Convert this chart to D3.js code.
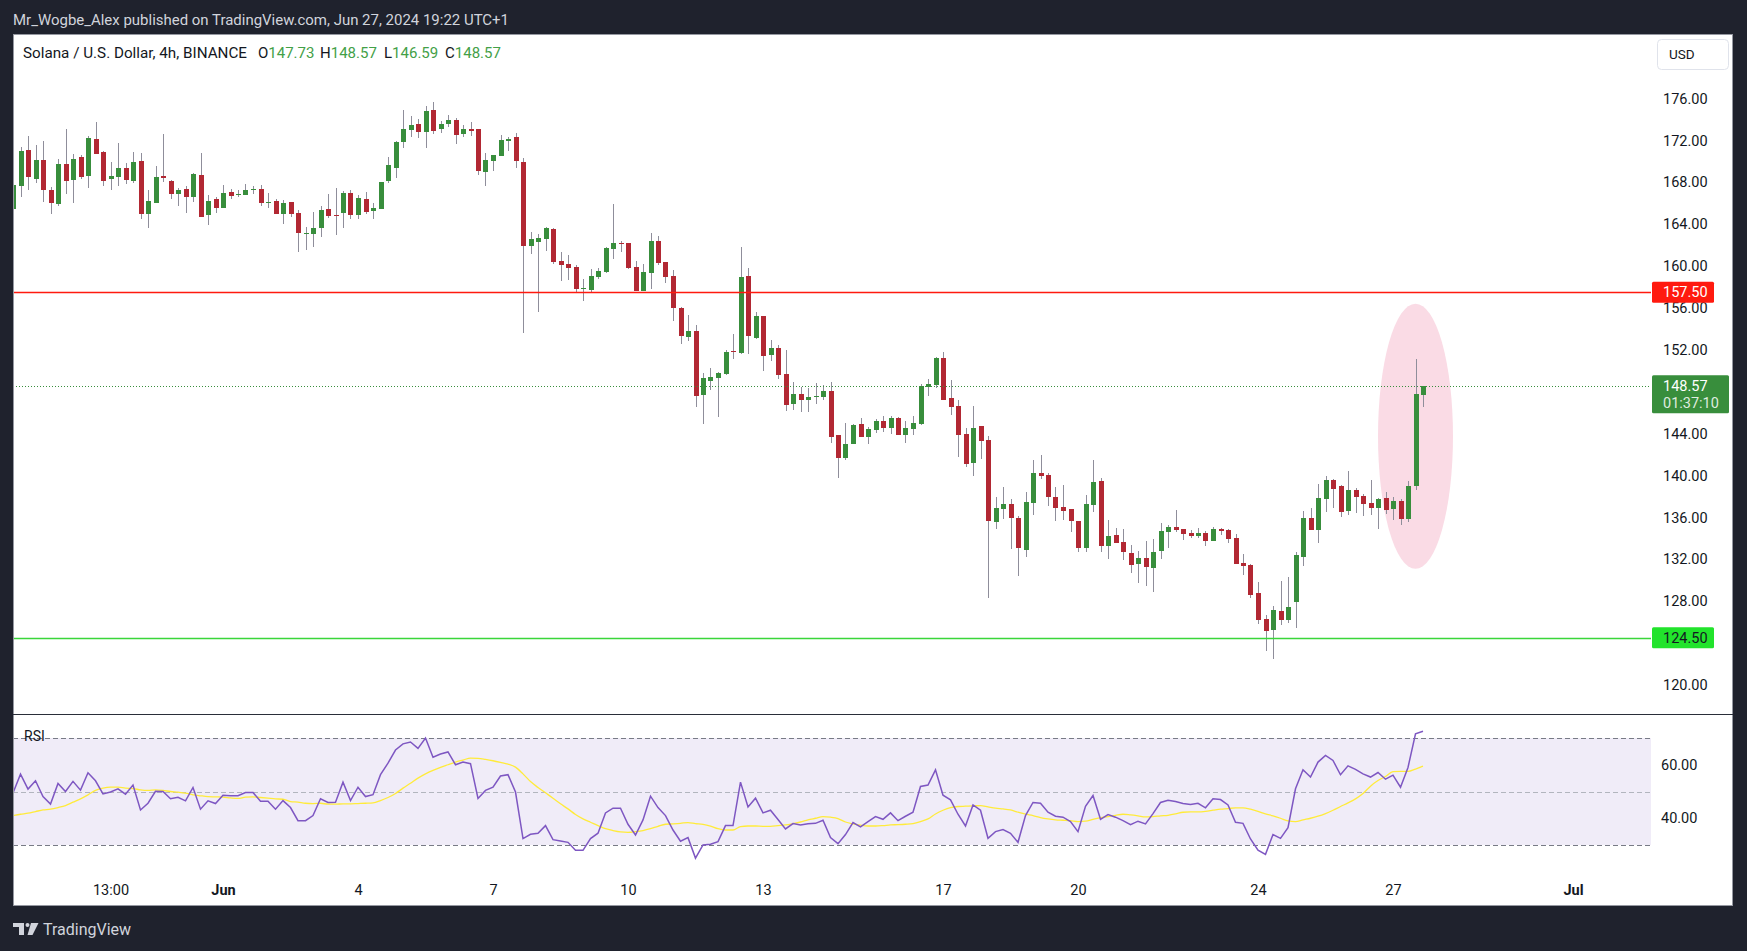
<!DOCTYPE html>
<html><head><meta charset="utf-8">
<script src="https://cdn.jsdelivr.net/npm/d3@7"></script>
<style>
body{margin:0;background:#1f222d;}
svg{display:block;}
text{font-family:Roboto,"Noto Sans",sans-serif;}
</style>
</head><body>
<svg id="chart" width="1747" height="951"></svg>
<script>
// ---------- DATA (4h candles, UTC+1 wall clock, first bar May 27 09:00) ----------
const firstBar = "2024-05-27T09:00:00Z";
const barHours = 4;
const opens = [
165.48,167.68,171.08,168.35,170.13,167.26,165.96,169.75,168.25,170.41,
168.63,172.13,170.89,168.35,168.54,169.36,168.16,170.03,165.01,166.06,
168.60,168.12,166.91,167.36,166.63,168.70,164.91,166.41,165.58,167.07,
166.82,166.82,167.30,167.36,166.06,166.21,165.01,166.12,165.07,163.10,
163.10,163.67,165.45,164.88,165.10,166.98,164.91,166.41,165.29,165.48,
168.16,169.40,171.88,173.02,173.57,172.83,174.90,173.12,173.60,173.95,
172.64,173.09,173.09,169.01,170.06,170.54,171.97,172.32,169.94,161.95,
162.33,162.62,163.54,160.49,160.20,159.91,157.85,157.75,158.99,159.47,
161.66,162.21,162.21,159.91,157.66,159.37,162.40,160.39,159.06,156.00,
153.26,153.81,147.73,149.06,149.35,149.73,151.90,151.74,159.06,153.17,
155.24,151.55,152.18,149.70,146.87,147.79,147.25,147.54,147.54,148.08,
143.88,141.71,143.05,144.93,143.72,144.39,145.21,144.58,145.50,143.91,
144.48,144.93,148.49,148.68,151.23,147.41,146.65,143.97,141.24,144.74,
143.40,135.60,136.84,137.29,135.95,132.93,137.42,140.25,140.06,137.96,
137.00,136.81,135.67,133.12,137.19,139.48,133.31,134.33,133.66,132.61,
131.56,132.13,131.21,132.83,134.65,135.09,134.90,134.52,134.27,134.52,
133.79,134.90,134.81,134.04,131.66,131.47,128.79,126.31,125.29,127.07,
126.25,127.97,132.26,135.95,134.84,137.80,139.58,139.01,136.65,138.63,
138.05,137.38,136.94,137.86,136.84,137.58,135.89,139.04,147.73];
const highs = [
168.06,171.37,172.42,171.56,171.94,167.55,170.22,173.09,170.70,170.61,
172.42,173.76,170.99,169.94,171.75,169.84,170.89,170.80,167.26,169.56,
172.61,168.22,167.46,167.65,168.89,170.80,166.79,166.63,167.74,167.36,
167.26,167.84,167.61,167.74,166.98,166.44,166.31,166.12,165.36,163.76,
165.20,165.74,166.91,167.46,167.17,167.26,166.79,167.07,166.02,168.03,
170.41,171.94,174.90,174.33,174.04,175.28,175.67,173.85,174.42,174.14,
173.47,173.76,173.09,170.80,170.61,172.52,172.32,172.71,170.32,163.26,
163.06,163.76,163.67,161.35,161.06,160.11,158.77,159.72,159.82,161.82,
165.93,162.40,162.21,160.49,160.20,163.16,162.87,160.39,159.63,156.10,
155.33,154.38,149.80,150.27,149.92,151.99,153.52,161.82,159.82,155.62,
155.24,152.95,152.47,151.99,148.94,148.46,148.36,148.84,148.65,148.94,
143.88,145.02,144.93,145.50,144.67,145.40,145.69,145.69,145.60,145.21,
145.69,148.75,149.22,151.32,151.80,149.13,147.22,144.58,146.65,144.74,
143.78,137.96,138.91,137.77,136.14,138.43,141.49,141.97,140.25,138.91,
139.10,136.81,135.67,138.15,141.49,139.77,135.79,135.00,134.90,133.37,
132.83,133.79,133.98,135.47,135.28,136.72,134.90,134.81,135.00,134.71,
135.09,135.00,134.90,134.43,132.52,131.59,129.84,126.69,127.55,129.94,
130.32,132.71,136.62,136.91,139.20,139.96,139.68,139.10,140.44,138.82,
138.24,139.58,137.86,138.43,137.96,137.77,139.48,151.13,148.57];
const lows = [
165.04,166.63,167.30,167.90,166.15,165.01,165.77,166.91,166.06,168.35,
167.49,170.73,167.68,167.30,167.68,167.87,167.96,164.53,163.67,166.06,
168.06,166.44,165.77,165.10,166.15,164.72,163.96,165.10,165.58,166.44,
166.63,166.82,166.91,165.77,165.58,165.01,164.05,164.72,161.38,161.57,
161.86,162.81,164.62,163.00,163.67,164.53,164.53,165.01,164.53,165.48,
167.96,168.44,171.31,172.36,172.26,171.31,172.64,172.74,173.31,171.69,
172.36,172.45,168.73,167.68,169.11,170.54,171.02,169.40,153.65,161.19,
155.65,161.47,160.23,158.61,158.71,157.46,156.70,157.46,158.80,159.37,
160.71,161.38,159.76,157.66,157.66,157.85,160.14,158.42,154.79,152.60,
152.88,146.58,144.96,148.20,145.63,149.64,151.16,151.64,151.64,153.07,
150.02,150.97,149.25,146.20,146.30,146.10,146.10,146.87,147.25,143.14,
139.80,141.52,143.05,143.72,143.05,144.10,144.19,144.00,143.91,143.14,
143.91,144.83,147.63,148.40,147.25,145.82,141.81,140.85,139.99,141.62,
128.35,134.93,135.89,133.02,130.45,132.26,136.27,139.71,137.13,135.70,
135.79,134.65,132.74,132.74,136.56,132.74,132.07,133.60,131.97,130.73,
129.78,129.49,128.92,132.07,133.12,134.65,133.88,134.07,134.07,133.31,
133.79,134.36,133.60,131.59,130.54,128.35,125.86,123.29,122.52,125.77,
125.96,125.48,131.40,134.84,133.60,136.56,136.94,136.08,136.27,136.46,
136.17,136.27,134.93,136.37,135.79,135.32,135.60,138.66,146.59];
const closes = [
167.74,170.99,168.54,170.13,167.30,166.06,169.75,168.16,170.22,168.54,
172.23,170.73,168.16,168.60,169.36,168.25,169.94,165.01,166.21,168.51,
168.44,166.91,167.26,166.63,168.79,164.72,166.21,165.58,166.98,166.72,
166.88,167.26,167.36,166.06,166.12,165.01,166.02,165.01,163.19,163.16,
163.64,165.36,164.81,164.81,166.98,164.91,166.50,165.20,165.55,168.03,
169.65,171.85,173.09,173.47,172.83,174.81,172.93,173.57,173.95,172.55,
173.09,172.93,169.11,170.13,170.61,172.04,172.13,170.06,161.95,162.59,
162.68,163.67,160.42,160.14,159.82,157.85,157.91,159.06,159.53,161.73,
162.21,162.14,159.82,157.66,159.44,162.40,160.33,158.99,156.03,153.36,
153.81,147.63,149.32,149.41,149.80,151.80,151.83,158.96,153.36,155.24,
151.45,152.18,149.64,146.77,147.79,147.25,147.50,147.60,148.08,143.72,
141.71,143.02,144.83,143.72,144.48,145.21,144.58,145.50,143.91,144.58,
145.02,148.59,148.75,151.23,147.25,146.58,143.91,141.14,144.54,143.34,
135.70,136.91,137.29,135.95,133.12,137.48,140.25,139.99,137.99,136.94,
136.65,135.70,133.12,137.29,139.39,133.31,134.23,133.60,132.74,131.47,
132.13,131.31,132.71,134.71,135.09,134.84,134.46,134.23,134.52,133.79,
134.90,134.74,133.98,131.59,131.40,128.63,126.25,125.20,127.17,126.25,
127.46,132.42,135.95,134.84,137.86,139.58,138.75,136.56,138.63,137.99,
137.32,136.94,137.77,136.75,137.58,135.89,139.04,147.79,148.57];
const rsiValues = [
49.4,56.5,50.9,54.0,48.1,45.3,53.0,50.0,53.8,50.5,
57.0,54.0,49.1,49.8,51.0,49.0,52.4,43.1,45.6,50.1,
50.0,47.3,47.8,46.5,51.5,43.4,46.5,45.5,48.6,48.4,
48.4,49.6,49.6,46.4,46.4,43.4,46.6,44.0,39.1,39.1,
41.0,47.3,45.9,46.0,53.5,46.6,51.6,48.1,48.8,56.3,
60.6,65.5,67.8,68.5,66.1,70.0,62.8,64.0,64.8,60.0,
61.0,60.4,47.4,50.4,51.6,55.8,56.3,49.8,32.4,34.0,
34.4,37.25,32.0,31.5,31.0,28.0,28.0,32.4,34.4,42.0,
43.75,43.75,37.75,33.75,39.4,48.25,44.0,41.0,35.6,31.4,
32.75,25.1,30.0,30.25,31.25,37.25,37.25,53.5,44.25,47.5,
42.0,43.0,39.5,36.0,38.0,37.5,37.9,38.1,39.25,32.75,
30.5,33.9,38.4,36.75,38.75,40.6,39.6,42.0,39.1,40.75,
42.25,51.9,52.4,58.1,48.6,46.9,41.5,37.1,45.0,43.0,
32.5,35.0,35.75,34.4,31.0,41.0,45.9,45.6,42.25,40.75,
40.4,38.75,35.0,44.5,48.5,39.6,41.4,40.4,39.1,37.6,
38.9,37.9,41.75,45.9,46.75,46.25,45.5,45.1,45.6,43.9,
47.25,47.0,45.0,38.5,38.1,32.25,28.1,26.5,33.9,32.5,
36.5,51.0,58.1,55.4,61.0,63.5,61.6,56.25,59.6,58.25,
56.6,55.4,57.1,54.6,56.1,51.6,59.0,71.6,72.5];
const rsiMAValues = [
41.0,41.5,41.9,42.5,43.1,43.4,44.0,44.75,46.0,47.25,
48.75,50.4,51.25,51.6,51.6,51.25,51.1,50.6,50.4,50.6,
50.4,50.0,49.75,49.4,48.75,48.4,48.1,48.0,47.9,47.6,
47.4,47.9,48.0,47.75,47.5,47.25,47.1,46.25,46.0,45.6,
45.5,45.6,45.25,45.25,45.4,45.4,45.5,45.6,45.75,46.6,
47.75,49.25,51.25,53.1,55.0,56.6,57.9,59.0,60.0,61.0,
61.75,62.5,62.4,62.0,61.5,60.9,60.25,59.1,56.6,53.7,
51.5,49.5,47.5,45.4,43.5,41.4,39.75,38.5,37.25,36.1,
35.4,34.9,34.75,35.0,35.4,36.1,37.0,37.75,37.9,38.1,
38.4,38.0,37.75,37.1,36.1,35.6,35.6,36.9,37.1,37.1,
37.0,37.0,37.25,37.5,38.0,38.6,39.4,40.0,40.6,40.4,
39.9,38.6,37.9,37.4,37.1,37.1,37.25,37.5,37.6,37.75,
38.0,38.75,39.75,41.6,43.0,44.0,44.4,44.5,44.6,44.75,
44.25,43.75,43.5,43.1,42.25,41.5,41.0,40.25,39.75,39.4,
39.25,39.1,38.75,38.9,39.6,40.25,40.6,41.1,41.5,41.25,
40.9,40.5,40.6,40.9,41.1,41.6,42.25,42.4,42.4,42.6,
43.0,43.4,43.6,43.9,43.9,43.4,42.6,41.6,40.9,40.0,
39.0,38.75,39.4,40.0,40.75,41.75,43.0,44.4,45.75,47.25,
49.25,52.0,54.1,55.6,57.4,57.5,57.5,58.4,59.5];

// visible price-scale labels (124.00 and 148.00 are covered by price tags in the original)
const priceTicks = [120,128,132,136,140,144,152,156,160,164,168,172,176];
const rsiTicks = [40,60];
const rsiLevels = [70,50,30];
const timeLabelDates = ["2024-05-29T13:00:00Z","2024-06-01T01:00:00Z","2024-06-04T01:00:00Z","2024-06-07T01:00:00Z",
  "2024-06-10T01:00:00Z","2024-06-13T01:00:00Z","2024-06-17T01:00:00Z","2024-06-20T01:00:00Z",
  "2024-06-24T01:00:00Z","2024-06-27T01:00:00Z","2024-07-01T01:00:00Z"];
const timeLabels = ["13:00","Jun","4","7","10","13","17","20","24","27","Jul"];
const boldLabels = ["Jun","Jul"];
const resistance = 157.50;
const support = 124.50;
const countdown = "01:37:10";
const ellipseBars = [154, 164];       // bar index range of highlight ellipse
const ellipsePrices = [131.1, 156.4]; // price range of highlight ellipse
const headerText = "Mr_Wogbe_Alex published on TradingView.com, Jun 27, 2024 19:22 UTC+1";
const symbolText = "Solana / U.S. Dollar, 4h, BINANCE";

// ---------- SETUP ----------
const svg = d3.select("#chart");
const W = 1747, H = 951;
const frame = {l:13, t:34, r:1733, b:906};
const plotR = 1651, paneSplit = 714;
const UP = "#388e3c", DOWN = "#b22833", WICK = "#8f8e9b", TXT = "#131722";
const FS = 14.5;

const t0 = new Date(firstBar).getTime();
const bars = opens.map((o,k)=>({
  t: new Date(t0 + k*barHours*3600e3), o, h:highs[k], l:lows[k], c:closes[k],
  r: rsiValues[k], m: rsiMAValues[k]
}));

const x = d3.scaleUtc()
  .domain([new Date(firstBar), new Date("2024-07-02T18:36:00Z")])
  .range([frame.l, plotR]);
const y = d3.scaleLinear().domain([120,176]).range([685,98.5]);
const yr = d3.scaleLinear().domain([30,70]).range([845,738]);

// background
svg.append("rect").attr("width",W).attr("height",H).attr("fill","#1f222d");
svg.append("text").attr("x",13).attr("y",25).attr("fill","#d1d4dc")
  .attr("font-size",15).attr("textLength",496).attr("lengthAdjust","spacingAndGlyphs").text(headerText);
svg.append("rect").attr("x",frame.l+0.5).attr("y",frame.t+0.5)
  .attr("width",frame.r-frame.l-1).attr("height",frame.b-frame.t-1)
  .attr("fill","#fff").attr("stroke","#9598a1").attr("stroke-width",1);

const defs = svg.append("defs");
defs.append("clipPath").attr("id","mainClip").append("rect")
  .attr("x",frame.l+1).attr("y",frame.t+1).attr("width",plotR-frame.l-1).attr("height",paneSplit-frame.t-1);
defs.append("clipPath").attr("id","rsiClip").append("rect")
  .attr("x",frame.l+1).attr("y",paneSplit+1).attr("width",plotR-frame.l-1).attr("height",frame.b-paneSplit-40);

// ---------- MAIN PANE ----------
const main = svg.append("g").attr("clip-path","url(#mainClip)");
const barTime = i => new Date(t0 + (i+28)*barHours*3600e3);   // i = bar index from Jun 1 01:00
const ex0 = x(barTime(ellipseBars[0])), ex1 = x(barTime(ellipseBars[1]));
main.append("ellipse")
  .attr("cx",(ex0+ex1)/2).attr("cy",(y(ellipsePrices[0])+y(ellipsePrices[1]))/2)
  .attr("rx",(ex1-ex0)/2).attr("ry",(y(ellipsePrices[0])-y(ellipsePrices[1]))/2)
  .attr("fill","#fadbe5");

const cg = main.append("g");
cg.selectAll("line.wick").data(bars).join("line").attr("class","wick")
  .attr("x1",d=>Math.round(x(d.t))+0.5).attr("x2",d=>Math.round(x(d.t))+0.5)
  .attr("y1",d=>y(d.h)).attr("y2",d=>y(d.l))
  .attr("stroke",WICK).attr("stroke-width",1).attr("shape-rendering","crispEdges");
cg.selectAll("rect.body").data(bars).join("rect").attr("class","body")
  .attr("x",d=>Math.round(x(d.t))-2).attr("width",5)
  .attr("y",d=>y(Math.max(d.o,d.c)))
  .attr("height",d=>Math.max(1,Math.abs(y(d.o)-y(d.c))))
  .attr("fill",d=>d.c>=d.o?UP:DOWN).attr("shape-rendering","crispEdges");

// horizontal levels
const last = bars[bars.length-1];
main.append("line").attr("x1",frame.l).attr("x2",plotR)
  .attr("y1",Math.round(y(resistance))+0.5).attr("y2",Math.round(y(resistance))+0.5)
  .attr("stroke","#ff1a0f").attr("stroke-width",1.3);
main.append("line").attr("x1",frame.l).attr("x2",plotR)
  .attr("y1",Math.round(y(support))+0.5).attr("y2",Math.round(y(support))+0.5)
  .attr("stroke","#3ad63a").attr("stroke-width",1.3);
main.append("line").attr("x1",frame.l).attr("x2",plotR)
  .attr("y1",Math.round(y(last.c))+0.5).attr("y2",Math.round(y(last.c))+0.5)
  .attr("stroke",UP).attr("stroke-width",1).attr("stroke-dasharray","1,2");

// legend
const fmt = d3.format(".2f");
const lg = svg.append("text").attr("y",58).attr("font-size",15).attr("fill",TXT);
lg.append("tspan").attr("x",23).attr("textLength",224).attr("lengthAdjust","spacingAndGlyphs").text(symbolText);
[["O",last.o,258],["H",last.h,320],["L",last.l,384],["C",last.c,445]].forEach(([k,v,px])=>{
  lg.append("tspan").attr("x",px).attr("fill",TXT).text(k);
  lg.append("tspan").attr("fill","#43a047").text(fmt(v));
});

// price axis
const pAxis = svg.append("g").attr("transform",`translate(${plotR},0)`)
  .call(d3.axisRight(y).tickValues(priceTicks).tickFormat(fmt).tickSize(0).tickPadding(12));
pAxis.select(".domain").remove();
pAxis.selectAll("text").attr("font-size",FS).attr("fill",TXT)
  .attr("font-family","Roboto,'Noto Sans',sans-serif");

// price labels
function priceTag(v, fill, color, lines){
  const yy = y(v);
  const h = lines.length>1 ? 38 : 21;
  const g = svg.append("g");
  g.append("rect").attr("x",plotR+1).attr("y",yy-10.5)
    .attr("width", lines.length>1?77:62).attr("height",h).attr("rx",1.5).attr("fill",fill);
  lines.forEach((s,k)=>{
    g.append("text").attr("x",plotR+12).attr("y",yy+5+k*17).attr("font-size",FS)
      .attr("fill",k===0?color:"rgba(255,255,255,0.85)").text(s);
  });
}
priceTag(resistance,"#ff1a0f","#ffffff",[fmt(resistance)]);
priceTag(last.c,"#388e3c","#ffffff",[fmt(last.c),countdown]);
priceTag(support,"#22e32c",TXT,[fmt(support)]);

// USD button
svg.append("rect").attr("x",1657.5).attr("y",39.5).attr("width",71).attr("height",30)
  .attr("rx",4).attr("fill","#fff").attr("stroke","#e0e3eb");
svg.append("text").attr("x",1669).attr("y",59).attr("font-size",13.5).attr("fill",TXT).text("USD");

// pane separator
svg.append("line").attr("x1",frame.l).attr("x2",frame.r).attr("y1",paneSplit+0.5).attr("y2",paneSplit+0.5)
  .attr("stroke","#2a2e39").attr("stroke-width",1);

// ---------- RSI PANE ----------
const rg = svg.append("g").attr("clip-path","url(#rsiClip)");
rg.append("rect").attr("x",frame.l).attr("width",plotR-frame.l)
  .attr("y",yr(70)).attr("height",yr(30)-yr(70)).attr("fill","#f0ecf8");
rg.selectAll("line.lvl").data(rsiLevels).join("line").attr("class","lvl")
  .attr("x1",frame.l).attr("x2",plotR)
  .attr("y1",d=>Math.round(yr(d))+0.5).attr("y2",d=>Math.round(yr(d))+0.5)
  .attr("stroke",d=>d===50?"#b2b5be":"#787b86").attr("stroke-width",1)
  .attr("stroke-dasharray","5,3");
rg.append("path").datum(bars)
  .attr("d",d3.line().x(d=>x(d.t)).y(d=>yr(d.m)).curve(d3.curveMonotoneX))
  .attr("fill","none").attr("stroke","#ffeb3b").attr("stroke-width",1.3);
rg.append("path").datum(bars)
  .attr("d",d3.line().x(d=>x(d.t)).y(d=>yr(d.r)))
  .attr("fill","none").attr("stroke","#7e57c2").attr("stroke-width",1.5);
svg.append("text").attr("x",24).attr("y",741).attr("font-size",14).attr("fill",TXT).text("RSI");

const rAxis = svg.append("g").attr("transform",`translate(${plotR},0)`)
  .call(d3.axisRight(yr).tickValues(rsiTicks).tickFormat(fmt).tickSize(0).tickPadding(10));
rAxis.select(".domain").remove();
rAxis.selectAll("text").attr("font-size",FS).attr("fill",TXT)
  .attr("font-family","Roboto,'Noto Sans',sans-serif");

// ---------- TIME AXIS ----------
const tAxis = svg.append("g").attr("transform","translate(0,885)")
  .call(d3.axisBottom(x).tickValues(timeLabelDates.map(s=>new Date(s)))
    .tickFormat((d,k)=>timeLabels[k]).tickSize(0).tickPadding(0));
tAxis.select(".domain").remove();
tAxis.selectAll("text").attr("font-size",FS).attr("fill",TXT)
  .attr("font-family","Roboto,'Noto Sans',sans-serif")
  .attr("font-weight",(d,k)=>boldLabels.includes(timeLabels[k])?"bold":"normal");

// ---------- FOOTER LOGO ----------
const logo = svg.append("g").attr("fill","#d1d4dc");
logo.append("rect").attr("x",13).attr("y",923).attr("width",11).attr("height",4);
logo.append("rect").attr("x",19).attr("y",923).attr("width",5).attr("height",12);
logo.append("circle").attr("cx",27.5).attr("cy",925).attr("r",2);
logo.append("polygon").attr("points","31,923 38.5,923 32.5,935 27.5,935");
svg.append("text").attr("x",43).attr("y",935).attr("font-size",16).attr("fill","#d1d4dc").text("TradingView");
</script>
</body></html>
